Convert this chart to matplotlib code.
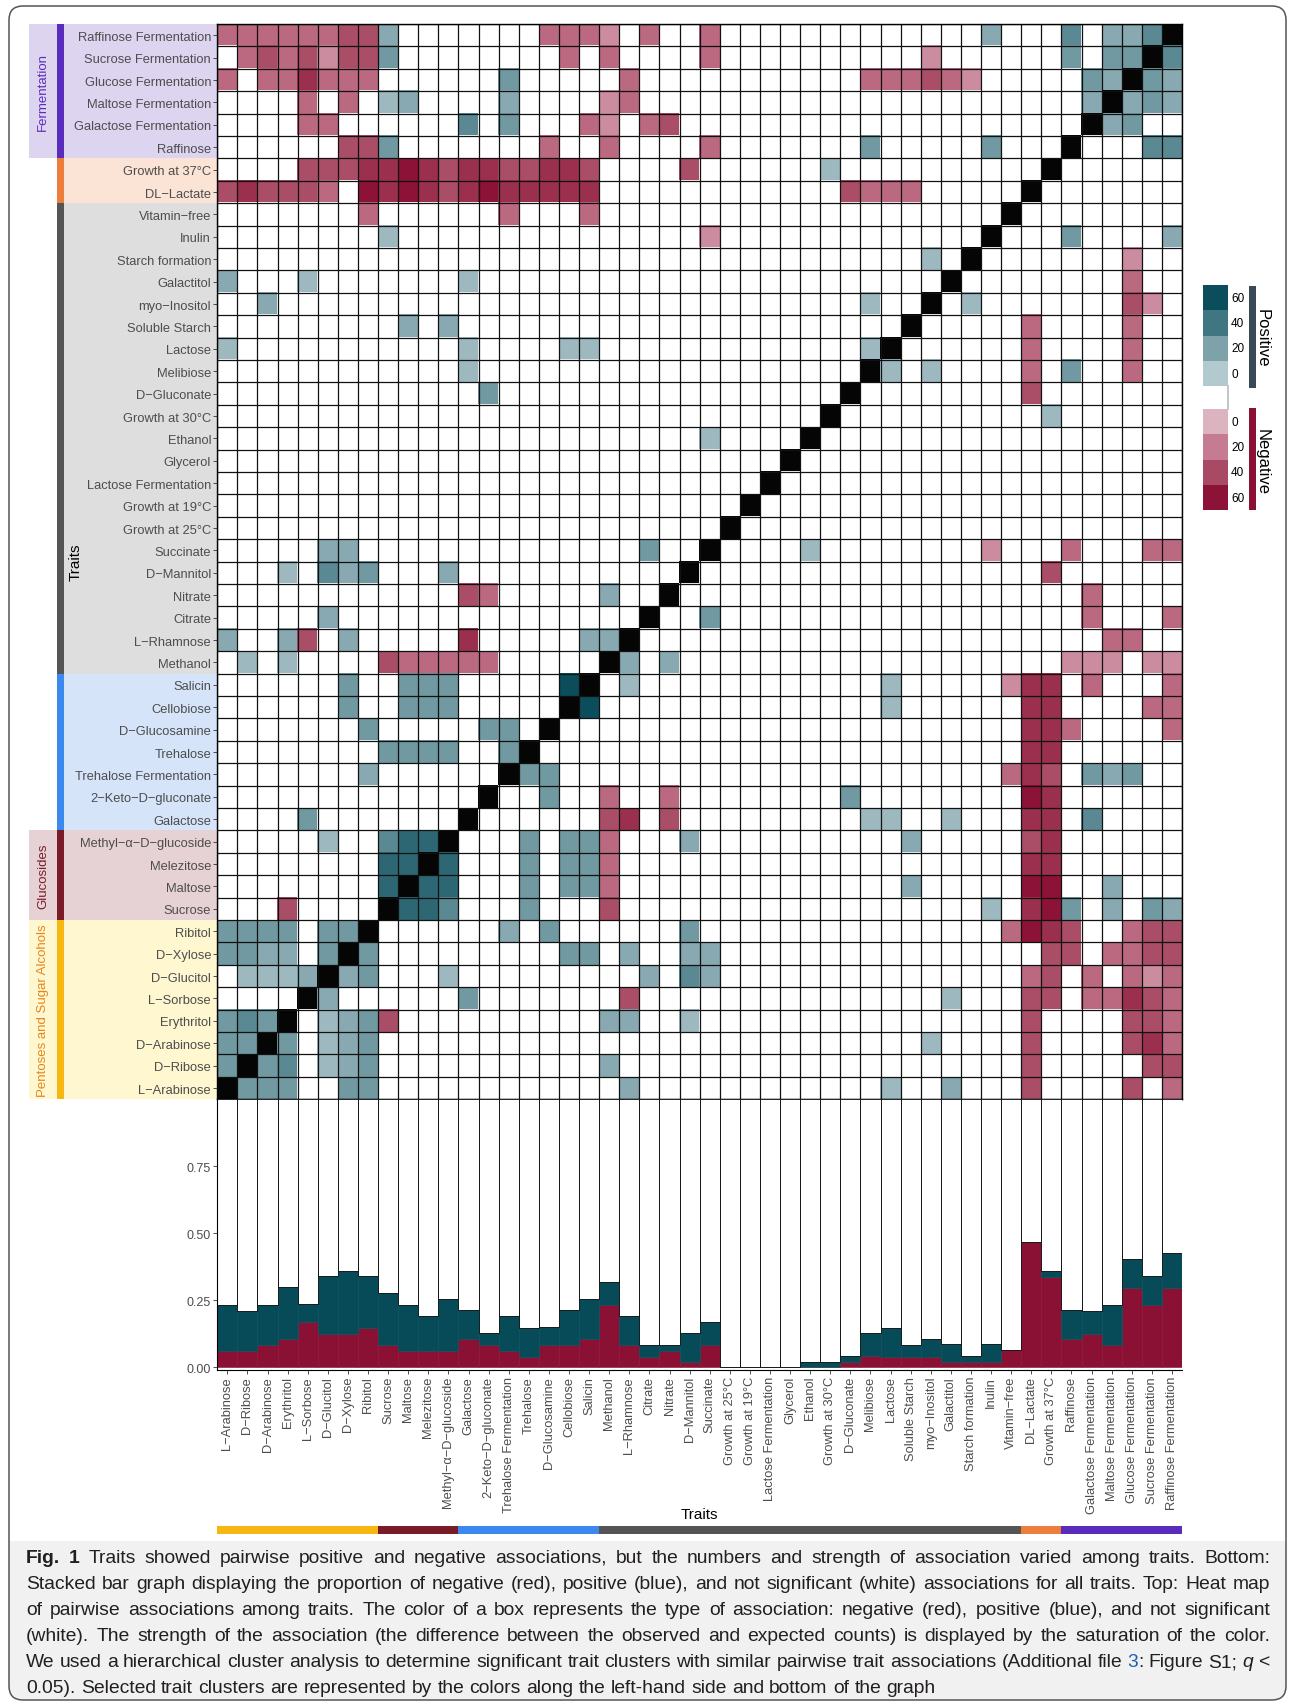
import numpy as np
import matplotlib
matplotlib.use("Agg")
import matplotlib.pyplot as plt
from matplotlib.colors import LinearSegmentedColormap
from matplotlib.patches import Rectangle, FancyBboxPatch
from matplotlib import transforms, font_manager

plt.rcParams['font.family'] = ['Liberation Sans', 'DejaVu Sans']

M = "\u2212"
traits = ["L" + M + "Arabinose", "D" + M + "Ribose", "D" + M + "Arabinose", "Erythritol",
          "L" + M + "Sorbose", "D" + M + "Glucitol", "D" + M + "Xylose", "Ribitol",
          "Sucrose", "Maltose", "Melezitose", "Methyl" + M + "\u03b1" + M + "D" + M + "glucoside",
          "Galactose", "2" + M + "Keto" + M + "D" + M + "gluconate", "Trehalose Fermentation", "Trehalose",
          "D" + M + "Glucosamine", "Cellobiose", "Salicin", "Methanol",
          "L" + M + "Rhamnose", "Citrate", "Nitrate", "D" + M + "Mannitol",
          "Succinate", "Growth at 25°C", "Growth at 19°C", "Lactose Fermentation",
          "Glycerol", "Ethanol", "Growth at 30°C", "D" + M + "Gluconate",
          "Melibiose", "Lactose", "Soluble Starch", "myo" + M + "Inositol",
          "Galactitol", "Starch formation", "Inulin", "Vitamin" + M + "free",
          "DL" + M + "Lactate", "Growth at 37°C", "Raffinose", "Galactose Fermentation",
          "Maltose Fermentation", "Glucose Fermentation", "Sucrose Fermentation", "Raffinose Fermentation"]

# one row per trait (same order as traits, first row drawn at the bottom)
# '.' not significant, 'X' diagonal, A-F positive (light->dark), a-e negative (light->dark)
assoc_rows = [
    "XCCC..CC ........ ....B... ........ .A..B... c....c.b",
    "CXCD.ABC ........ ...B.... ........ ........ c.....cc",
    "CCXC.ABC ........ ........ ........ ...A.... c....cdb",
    "CDCX.ABC c....... ...BB..A ........ ........ c....ccb",
    "....XB.. ....C... ....c... ........ ....A... cc.bbdcb",
    ".AAABXBC ...A.... .....B.D B....... ........ bc.b.bab",
    "CCBB.CXC ........ .CC.B..B B....... ........ .cc.bbcc",
    "CCCC.CCX ......B. C......C ........ .......b edc..bcc",
    "...c.... XEED...C ...c.... ........ ......A. deC.B.CB",
    "........ EXEE...C .CCb.... ........ ..B..... ee..B...",
    "........ EEXE...C .CCb.... ........ ........ dd......",
    ".....A.. DEEX...C .CCb...B ........ ..B..... cd......",
    "....C... ....X... ...cd.c. ........ AA..A... dd.D....",
    "........ .....X.. C..b..b. .......C ........ ed......",
    ".......B ......XC C....... ........ .......b dc.CBC..",
    "........ CCCC..CX ........ ........ ........ dd......",
    ".......C .....CC. X....... ........ ........ ddb....b",
    "......C. .CCC.... .XF..... ........ .A...... dd....bb",
    "......C. .CCC.... .FX.A... ........ .A.....a dd.b...b",
    ".A.A.... cbbbbb.. ...XB.B. ........ ........ ..aaa.aa",
    "B..Bc.B. ....d... ..BBX... ........ ........ ....bb..",
    ".....B.. ........ .....X.. C....... ........ ...b...b",
    "........ ....cb.. ...B..X. ........ ........ ...b....",
    "...A.DBC ...B.... .......X ........ ........ .c......",
    ".....BB. ........ .....C.. X....A.. ......a. ..b...bb",
    "........ ........ ........ .X...... ........ ........",
    "........ ........ ........ ..X..... ........ ........",
    "........ ........ ........ ...X.... ........ ........",
    "........ ........ ........ ....X... ........ ........",
    "........ ........ ........ A....X.. ........ ........",
    "........ ........ ........ ......X. ........ .A......",
    "........ .....C.. ........ .......X ........ c.......",
    "........ ....A... ........ ........ XA.A.... b.C..b..",
    "A....... ....A... .AA..... ........ AX...... b....b..",
    "........ .B.B.... ........ ........ ..X..... b....b..",
    "..B..... ........ ........ ........ A..X.A.. .....ca.",
    "B...A... ....A... ........ ........ ....X... .....b..",
    "........ ........ ........ ........ ...A.X.. .....a..",
    "........ A....... ........ a....... ......X. ..C....B",
    ".......b ......b. ..b..... ........ .......X ........",
    "cdcccb.e dedcdedd ddd..... .......c bbb..... X.......",
    "....cccd dedcddcc ddc....c ......A. ........ .X......",
    "......cc C....... b..b.... b....... C.....C. ..X...DD",
    "....bb.. ....D.C. ..ba.bc. ........ ........ ...XBC..",
    "....b.b. AB....B. ...ab... ........ ........ ...BXBCB",
    "b.bbdbbb ......C. ....b... ........ bbbcba.. ...CBXCB",
    ".bcbcacc C....... .b.b.... b....... ...a.... ..C.CCXD",
    "bbbbbbcc B....... bbba.b.. b....... ......B. ..D.BBDX",
]
pos_levels = {'A': 8, 'B': 16, 'C': 24, 'D': 31, 'E': 47, 'F': 62}
neg_levels = {'a': 14, 'b': 27, 'c': 38, 'd': 49, 'e': 60}

# proportions for the stacked bars
neg_prop = [0.060, 0.060, 0.082, 0.104, 0.169, 0.124, 0.124, 0.147,
            0.082, 0.060, 0.060, 0.060, 0.104, 0.082, 0.060, 0.037,
            0.082, 0.082, 0.104, 0.233, 0.082, 0.037, 0.060, 0.019,
            0.082, 0.0, 0.0, 0.0, 0.0, 0.0, 0.0, 0.019,
            0.041, 0.037, 0.037, 0.037, 0.019, 0.019, 0.019, 0.063,
            0.468, 0.337, 0.104, 0.124, 0.082, 0.296, 0.233, 0.296]
pos_prop = [0.173, 0.150, 0.151, 0.196, 0.067, 0.217, 0.235, 0.194,
            0.195, 0.173, 0.132, 0.195, 0.110, 0.046, 0.132, 0.110,
            0.068, 0.132, 0.151, 0.085, 0.110, 0.045, 0.022, 0.109,
            0.087, 0.0, 0.0, 0.0, 0.0, 0.019, 0.019, 0.022,
            0.087, 0.110, 0.045, 0.067, 0.067, 0.022, 0.067, 0.0,
            0.0, 0.022, 0.110, 0.086, 0.151, 0.108, 0.108, 0.131]

cluster_names = ["Pentoses and Sugar Alcohols", "Glucosides", "", "", "", "Fermentation"]
cluster_sizes = [8, 4, 7, 21, 2, 6]
cluster_strip = ["#f5b710", "#7a1b29", "#3b88ef", "#555555", "#ec7d3b", "#5a2cbe"]
cluster_bg = ["#fef7cf", "#e6d2d5", "#d5e4f9", "#dedede", "#fbe3d6", "#ddd4f0"]
cluster_text = ["#e8851c", "#7a1b29", None, None, None, "#5a2cbe"]

legend_levels = [60, 40, 20, 0]
pos_colors = ["#b2c9ce", "#7ea2aa", "#3f7681", "#0c4d5c"]
neg_colors = ["#dcb4c0", "#c57b91", "#a84a63", "#8c1337"]

caption = [
    [("Fig. 1", "b"), (" Traits showed pairwise positive and negative associations, but the numbers and strength of association varied among traits. Bottom:", "n")],
    [("Stacked bar graph displaying the proportion of negative (red), positive (blue), and not significant (white) associations for all traits. Top: Heat map", "n")],
    [("of pairwise associations among traits. The color of a box represents the type of association: negative (red), positive (blue), and not significant", "n")],
    [("(white). The strength of the association (the difference between the observed and expected counts) is displayed by the saturation of the color.", "n")],
    [("We used a hierarchical cluster analysis to determine significant trait clusters with similar pairwise trait associations (Additional file ", "n"),
     ("3", "link"), (": Figure S1; ", "n"), ("q", "i"), (" <", "n")],
    [("0.05). Selected trait clusters are represented by the colors along the left-hand side and bottom of the graph", "n")],
]

try:
    font_manager.findfont(font_manager.FontProperties(family="Liberation Sans Narrow"),
                          fallback_to_default=False)
    narrow = "Liberation Sans Narrow"
except ValueError:
    narrow = "Liberation Sans"

W, H = 1295, 1708
fig = plt.figure(figsize=(W / 100, H / 100), dpi=100)

# full-figure overlay in pixel units (y downwards) for decorations
ov = fig.add_axes([0, 0, 1, 1])
ov.set_xlim(0, W)
ov.set_ylim(H, 0)
ov.axis("off")
ov.set_zorder(0)

hm_left, hm_right, hm_top, hm_bottom = 217.3, 1182.0, 25.0, 1100.3
bar_bottom = 1370.7
ax = fig.add_axes([hm_left / W, 1 - hm_bottom / H, (hm_right - hm_left) / W, (hm_bottom - hm_top) / H])
axb = fig.add_axes([hm_left / W, 1 - bar_bottom / H, (hm_right - hm_left) / W, (bar_bottom - hm_bottom) / H])
ax.set_zorder(2)
axb.set_zorder(2)

# ---- heat map ----
pos_cmap = LinearSegmentedColormap.from_list("pos", pos_colors)
neg_cmap = LinearSegmentedColormap.from_list("neg", neg_colors)
n = len(traits)
rgb = np.ones((n, n, 3))
for i, row in enumerate(assoc_rows):
    cells = row.replace(" ", "")
    for j, ch in enumerate(cells):
        if ch == "X":
            rgb[i, j] = (0.02, 0.02, 0.02)
        elif ch in pos_levels:
            rgb[i, j] = pos_cmap(min(pos_levels[ch], 60) / 60)[:3]
        elif ch in neg_levels:
            rgb[i, j] = neg_cmap(min(neg_levels[ch], 60) / 60)[:3]

ax.imshow(rgb, origin="lower", extent=(0.5, n + 0.5, 0.5, n + 0.5), aspect="auto",
          interpolation="nearest")
edges = np.arange(0.5, n + 1)
ax.vlines(edges, 0.5, n + 0.5, color="#111111", lw=0.9)
ax.hlines(edges, 0.5, n + 0.5, color="#111111", lw=0.9)
ax.set_xlim(0.5, n + 0.5)
ax.set_ylim(0.5, n + 0.5)
ax.set_xticks([])
ax.set_yticks(np.arange(1, n + 1))
ax.set_yticklabels(traits, fontsize=9.3, color="#4d4d4d")
ax.tick_params(axis="y", length=3, width=0.6, color="#333333", pad=1.5)
for s in ax.spines.values():
    s.set_color("black")
    s.set_linewidth(1.0)
ax.set_ylabel("Traits", fontsize=11, color="black", va="center")
ax.yaxis.set_label_coords((76 - hm_left) / (hm_right - hm_left), 0.5)

# ---- stacked bars ----
x = np.arange(1, n + 1)
neg = np.array(neg_prop)
pos = np.array(pos_prop)
axb.bar(x, neg, width=1, color="#8a1034", edgecolor="#8a1034", lw=0.4)
axb.bar(x, pos, bottom=neg, width=1, color="#074a58", edgecolor="#074a58", lw=0.4)
axb.bar(x, 1 - neg - pos, bottom=neg + pos, width=1, color="white", edgecolor="black", lw=0.6)
axb.set_xlim(0.5, n + 0.5)
axb.set_ylim(-0.009, 1.0)
axb.set_yticks([0, 0.25, 0.5, 0.75])
axb.set_yticklabels(["0.00", "0.25", "0.50", "0.75"], fontsize=9, color="#4d4d4d")
axb.set_xticks(x)
axb.set_xticklabels(traits, rotation=90, fontsize=9.3, color="#4d4d4d", ha="center", va="top")
axb.tick_params(length=3, width=0.6, color="#333333", pad=1.5)
axb.spines["top"].set_visible(False)
axb.spines["right"].set_visible(False)
axb.spines["left"].set_color("black")
axb.spines["bottom"].set_color("black")
axb.set_xlabel("Traits", fontsize=11, color="black", va="center")
axb.xaxis.set_label_coords(0.5, (bar_bottom - 1515) / (bar_bottom - hm_bottom))

# ---- cluster annotations ----
left_tr = transforms.blended_transform_factory(ov.transData, ax.transData)
bottom_tr = transforms.blended_transform_factory(ax.transData, ov.transData)
start = 0.5
for name, size, sc, bg, tc in zip(cluster_names, cluster_sizes, cluster_strip, cluster_bg, cluster_text):
    x0 = 29 if name else 57
    ov.add_patch(Rectangle((x0, start), hm_left - x0, size, transform=left_tr,
                           facecolor=bg, edgecolor="none", clip_on=False, zorder=1))
    ov.add_patch(Rectangle((57, start), 7, size, transform=left_tr,
                           facecolor=sc, edgecolor="none", clip_on=False, zorder=2))
    ov.add_patch(Rectangle((start, 1527), size, 8, transform=bottom_tr,
                           facecolor=sc, edgecolor="none", clip_on=False, zorder=2))
    if name:
        ov.text(43, start + size / 2, name, transform=left_tr, rotation=90, ha="center",
                va="center", fontsize=9.5, color=tc, family=narrow, zorder=3)
    start += size

# ---- legend ----
box_h = 25.3
for k, lev in enumerate(legend_levels):
    y0 = 286 + k * box_h
    ov.add_patch(Rectangle((1202.7, y0), 25.6, box_h, facecolor=pos_cmap(lev / 60),
                           edgecolor="none", zorder=2))
    ov.text(1231, y0 + box_h / 2, str(lev), fontsize=8.5, va="center", ha="left", color="black")
for k, lev in enumerate(legend_levels[::-1]):
    y0 = 410 + k * box_h
    ov.add_patch(Rectangle((1202.7, y0), 25.6, box_h, facecolor=neg_cmap(lev / 60),
                           edgecolor="none", zorder=2))
    ov.text(1231, y0 + box_h / 2, str(lev), fontsize=8.5, va="center", ha="left", color="black")
ov.plot([1227.5, 1227.5], [387, 410], color="#bbbbbb", lw=1.2)
ov.add_patch(Rectangle((1249, 287), 6.7, 102, facecolor="#394955", edgecolor="none"))
ov.add_patch(Rectangle((1249, 409), 6.7, 102, facecolor="#8a1034", edgecolor="none"))
ov.text(1262, 338, "Positive", rotation=-90, fontsize=12, ha="center", va="center")
ov.text(1262, 462, "Negative", rotation=-90, fontsize=12, ha="center", va="center")

# ---- frame and caption ----
frame = FancyBboxPatch((9, 7), W - 18, H - 14, boxstyle="round,pad=0,rounding_size=14",
                       facecolor="none", edgecolor="#555555", lw=1.1, zorder=5)
ov.add_patch(frame)
shade = Rectangle((9, 1542), W - 18, H - 1549, facecolor="#f1f1f1", edgecolor="none", zorder=0)
ov.add_patch(shade)
shade.set_clip_path(frame)

cap_fs = 13.9
styles = {
    "n": dict(fontsize=cap_fs, color="#231f20"),
    "b": dict(fontsize=cap_fs, color="#231f20", fontweight="bold"),
    "i": dict(fontsize=cap_fs, color="#231f20", style="italic"),
    "link": dict(fontsize=cap_fs, color="#1f5fb0"),
}
renderer = fig.canvas.get_renderer()


def text_width(s, st):
    t = ov.text(0, 0, s, **styles[st])
    w = t.get_window_extent(renderer=renderer).width
    t.remove()
    return w


space_w = text_width("a a", "n") - text_width("aa", "n")
cap_left, cap_right = 26, 1270
for li, segs in enumerate(caption):
    words = [[]]
    for txt, st in segs:
        parts = txt.split(" ")
        for k, p in enumerate(parts):
            if k > 0:
                words.append([])
            if p:
                words[-1].append((p, st))
    words = [w for w in words if w]
    widths = [sum(text_width(p, st) for p, st in w) for w in words]
    if li < len(caption) - 1:
        gap = (cap_right - cap_left - sum(widths)) / (len(words) - 1)
    else:
        gap = space_w
    xx = cap_left
    y = 1563 + li * 26.1
    for w, ww in zip(words, widths):
        for p, st in w:
            ov.text(xx, y, p, va="baseline", ha="left", **styles[st])
            xx += text_width(p, st)
        xx += gap

fig.savefig("out.png", dpi=100)
